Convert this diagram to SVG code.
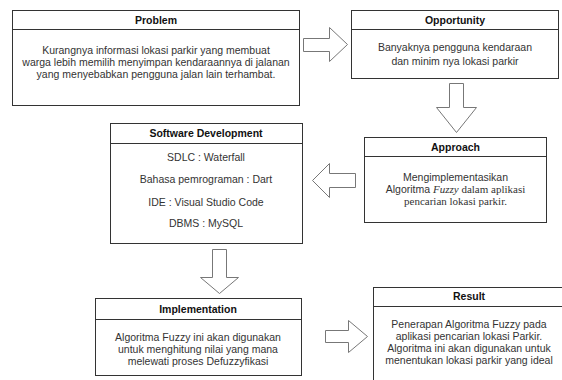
<svg xmlns="http://www.w3.org/2000/svg" width="562" height="380" viewBox="0 0 562 380">
<style>
.box{fill:#fff;stroke:#333;stroke-width:1}
.hl{stroke:#333;stroke-width:1}
.t{font-family:"Liberation Sans",Arial,sans-serif;font-size:10.5px;fill:#333;text-anchor:middle}
.h{font-family:"Liberation Sans",Arial,sans-serif;font-size:10.5px;font-weight:bold;fill:#111;text-anchor:middle}
.s{font-family:"Liberation Serif","Times New Roman",serif;font-size:11px;fill:#333}
.arr{fill:#fff;stroke:#777;stroke-width:1}
</style>
<rect width="562" height="380" fill="#fff"/>
<g id="connectors">
<polygon class="arr" points="303.5,38.5 329.5,38.5 329.5,27.5 347.5,44.5 329.5,61.5 329.5,51.5 303.5,51.5"/>
<polygon class="arr" points="449.5,83.5 463.5,83.5 463.5,107.5 476.5,107.5 456.5,132.5 436.5,107.5 449.5,107.5"/>
<polygon class="arr" points="355.5,173.5 329.5,173.5 329.5,163.5 312.5,180.5 329.5,197.5 329.5,187.5 355.5,187.5"/>
<polygon class="arr" points="212.5,249.5 226.5,249.5 226.5,277.5 238.5,277.5 219.5,293.5 200.5,277.5 212.5,277.5"/>
<polygon class="arr" points="325.5,330.5 348.5,330.5 348.5,320.5 367.5,336.5 348.5,352.5 348.5,342.5 325.5,342.5"/>
</g>
<g id="problem">
<rect class="box" x="12.5" y="10.5" width="287" height="95"/>
<line class="hl" x1="12.5" y1="29.5" x2="299.5" y2="29.5"/>
<text class="h" x="156" y="24">Problem</text>
<text class="t" x="156" y="54">Kurangnya informasi lokasi parkir yang membuat</text>
<text class="t" x="156" y="66">warga lebih memilih menyimpan kendaraannya di jalanan</text>
<text class="t" x="156" y="78">yang menyebabkan pengguna jalan lain terhambat.</text>
</g>
<g id="opportunity">
<rect class="box" x="351.5" y="10.5" width="207" height="68"/>
<line class="hl" x1="351.5" y1="29.5" x2="558.5" y2="29.5"/>
<text class="h" x="455" y="24">Opportunity</text>
<text class="t" x="455" y="51">Banyaknya pengguna kendaraan</text>
<text class="t" x="455" y="65">dan minim nya lokasi parkir</text>
</g>
<g id="approach">
<rect class="box" x="364.5" y="137.5" width="182" height="85"/>
<line class="hl" x1="364.5" y1="156.5" x2="546.5" y2="156.5"/>
<text class="h" x="455.5" y="151">Approach</text>
<text class="t" x="455.5" y="181">Mengimplementasikan</text>
<text class="t" x="455.5" y="193"><tspan>Algoritma </tspan><tspan class="s" font-style="italic">Fuzzy</tspan><tspan class="s"> dalam aplikasi</tspan></text>
<text class="s" x="455.5" y="205" text-anchor="middle">pencarian lokasi parkir.</text>
</g>
<g id="software-development">
<rect class="box" x="110.5" y="123.5" width="192" height="120"/>
<line class="hl" x1="110.5" y1="143.5" x2="302.5" y2="143.5"/>
<text class="h" x="206" y="137">Software Development</text>
<text class="t" x="206" y="161">SDLC : Waterfall</text>
<text class="t" x="206" y="183">Bahasa pemrograman : Dart</text>
<text class="t" x="206" y="206">IDE : Visual Studio Code</text>
<text class="t" x="206" y="227">DBMS : MySQL</text>
</g>
<g id="implementation">
<rect class="box" x="95.5" y="298.5" width="206" height="77"/>
<line class="hl" x1="95.5" y1="319.5" x2="301.5" y2="319.5"/>
<text class="h" x="198" y="313">Implementation</text>
<text class="t" x="198" y="341">Algoritma Fuzzy ini akan digunakan</text>
<text class="t" x="198" y="353">untuk menghitung nilai yang mana</text>
<text class="t" x="198" y="365">melewati proses Defuzzyfikasi</text>
</g>
<g id="result">
<rect class="box" x="373.5" y="287.5" width="192" height="100"/>
<line class="hl" x1="373.5" y1="306.5" x2="565.5" y2="306.5"/>
<text class="h" x="469" y="300">Result</text>
<text class="t" x="469" y="328">Penerapan Algoritma Fuzzy pada</text>
<text class="t" x="469" y="340">aplikasi pencarian lokasi Parkir.</text>
<text class="t" x="469" y="352">Algoritma ini akan digunakan untuk</text>
<text class="t" x="469" y="364">menentukan lokasi parkir yang ideal</text>
</g>
</svg>
